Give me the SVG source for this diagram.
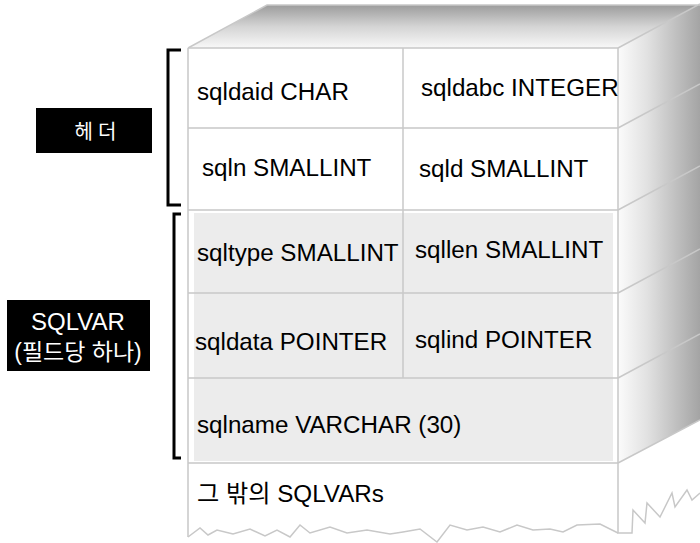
<svg xmlns="http://www.w3.org/2000/svg" width="700" height="543" viewBox="0 0 700 543">
<defs>
<linearGradient id="gTop" x1="0" y1="5" x2="0" y2="48" gradientUnits="userSpaceOnUse">
<stop offset="0" stop-color="#9c9c9c"/>
<stop offset="0.5" stop-color="#d4d4d4"/>
<stop offset="1" stop-color="#f8f8f8"/>
</linearGradient>
<linearGradient id="gSide" x1="618" y1="0" x2="700" y2="0" gradientUnits="userSpaceOnUse">
<stop offset="0" stop-color="#fbfbfb"/>
<stop offset="0.35" stop-color="#e2e2e2"/>
<stop offset="1" stop-color="#a4a4a4"/>
</linearGradient>
<style>
.edge{fill:none;stroke:#c8c8c8;stroke-width:1.5}
.cell{font-family:"Liberation Sans",Arial,"Noto Sans CJK KR",sans-serif;font-size:24.2px;fill:#000}
.br{fill:none;stroke:#000;stroke-width:3}
.lab{font-family:"Liberation Sans",Arial,"Noto Sans CJK KR",sans-serif;fill:#fff;text-anchor:middle}
</style>
</defs>
<rect width="700" height="543" fill="#fff"/>
<g id="box">
<polygon points="188,48 267,5 700,5 700,4 618,48" fill="url(#gTop)"/>
<polygon points="618,48 700,4 700,420 618,463" fill="url(#gSide)"/>
<rect x="188" y="48" width="430" height="485" fill="#fff"/>
<rect x="194" y="213" width="419" height="248" fill="#ececec"/>
<path class="edge" d="M188,48 L267,5 H700 M618,48 L700,4"/>
<path class="edge" d="M188,48 H618 M188,128 H618 M188,210 H618 M188,293 H618 M188,378 H618 M188,463 H618"/>
<path class="edge" d="M618,128 L700,84 M618,210 L700,166 M618,293 L700,249 M618,378 L700,334 M618,463 L700,420"/>
<path class="edge" d="M403,48 V378"/>
<path class="edge" d="M188,48 V537 M618,48 V533 H632 L633,510 L645,523 L647,503 L660,517 L672,493 L675,507 L687,490 L692,500 L700,493"/>
<path class="edge" d="M188,537 L200,528 L208,535 L217,530 L233,534 L250,529 L265,536 L277,530 L290,537 L300,525 L310,533 L330,527 L347,533 L367,530 L390,534 L403,532 L420,529 L437,542 L450,525 L467,530 L483,527 L500,532 L517,525 L533,530 L550,529 L563,532 L577,525 L600,524 L618,533"/>
</g>
<g id="cells">
<text class="cell" x="197" y="100">sqldaid CHAR</text>
<text class="cell" x="421" y="96">sqldabc INTEGER</text>
<text class="cell" x="202" y="176">sqln SMALLINT</text>
<text class="cell" x="419" y="177">sqld SMALLINT</text>
<text class="cell" x="197" y="261">sqltype SMALLINT</text>
<text class="cell" x="415" y="258">sqllen SMALLINT</text>
<text class="cell" x="195" y="350">sqldata POINTER</text>
<text class="cell" x="415" y="348">sqlind POINTER</text>
<text class="cell" x="197" y="433">sqlname VARCHAR (30)</text>
<text class="cell" x="197" y="502">그 밖의 SQLVARs</text>
</g>
<g id="header-label">
<path class="br" d="M181,50 H168 V205 H181"/>
<rect x="36" y="108" width="116" height="45" fill="#000"/>
<text class="lab" x="98" y="139" font-size="20" letter-spacing="5">헤더</text>
</g>
<g id="sqlvar-label">
<path class="br" d="M181,214 H174 V458 H181"/>
<rect x="7" y="300" width="143" height="71" fill="#000"/>
<text class="lab" x="78" y="330" font-size="24">SQLVAR</text>
<text class="lab" x="78" y="360" font-size="23">(필드당 하나)</text>
</g>
</svg>
